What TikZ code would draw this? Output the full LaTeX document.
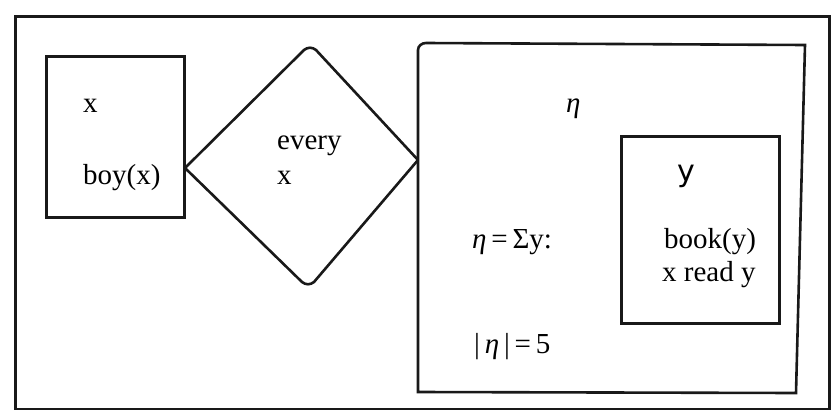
\documentclass[tikz,border=0pt]{standalone}
\usepackage{fontspec}
\setmainfont{Liberation Serif}
\newfontfamily\handfont{DejaVu Sans}
\begin{document}
\begin{tikzpicture}[x=1pt,y=-1pt,
  frame/.style={draw=black!90,line width=2.6pt},
  txt/.style={inner sep=0pt,font=\fontsize{29}{34}\selectfont,anchor=base west}]
\useasboundingbox (0,0) rectangle (831,410);
% outer frame
\node[frame,rectangle,minimum width=814,minimum height=393,anchor=north west,inner sep=0pt] (outer) at (14,15) {};
% left box
\node[frame,rectangle,minimum width=138,minimum height=161,anchor=north west,inner sep=0pt] (boybox) at (45,55) {};
% diamond
\coordinate (dl) at (185,168);
\coordinate (dt) at (310,55);
\coordinate (dr) at (418,160);
\coordinate (db) at (308,277);
\draw[frame,line join=round] (dl) -- ([xshift=-6,yshift=5]dt) to[out=40,in=140] ([xshift=6,yshift=5]dt) -- (dr) -- ([xshift=6,yshift=-5]db) to[out=-140,in=-40] ([xshift=-6,yshift=-5]db) -- cycle;
% big box
\draw[frame] (418,50) to[out=90,in=180] (426,43) -- (805,45) -- (796,393) -- (418,392) -- cycle;
\coordinate (bigbox) at (610,218);
% inner box
\node[frame,rectangle,minimum width=158,minimum height=187,anchor=north west,inner sep=0pt] (ybox) at (620,135) {};
% texts
\node[txt] (tx) at (83,112) {x};
\node[txt] (tboy) at (83,184) {boy(x)};
\node[txt] (tevery) at (277,149) {every};
\node[txt] (tx2) at (277,184) {x};
\node[txt] (teta) at (566,112) {\itshape η};
\node[txt,font=\handfont\fontsize{30}{34}\selectfont] (ty) at (677,181) {y};
\node[txt] (tbook) at (664,248) {book(y)};
\node[txt] (tread) at (662,281) {x read y};
\node[txt] (tsum) at (472,248) {{\itshape η}\,=\,Σy:};
\node[txt] (tcard) at (474,353) {|\,{\itshape η}\,|\,=\,5};
\end{tikzpicture}
\end{document}
